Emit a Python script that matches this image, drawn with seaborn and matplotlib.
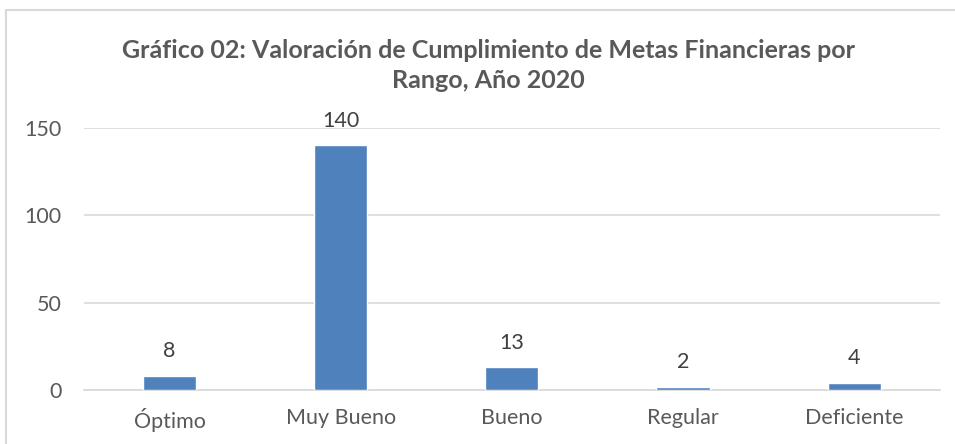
import matplotlib
matplotlib.use("Agg")
import matplotlib.pyplot as plt
import seaborn as sns
import pandas as pd

# datos del gráfico
categorias = ["Óptimo", "Muy Bueno", "Bueno", "Regular", "Deficiente"]
valores = [8, 140, 13, 2, 4]
titulo = "Gráfico 02: Valoración de Cumplimiento de Metas Financieras por\nRango, Año 2020"

df = pd.DataFrame({"rango": categorias, "cantidad": valores})

sns.set_theme(style="white")
plt.rcParams["font.family"] = ["Lato", "DejaVu Sans"]

fig = plt.figure(figsize=(9.55, 4.44), dpi=100)
ax = fig.add_axes([0.088, 0.1216, 0.896, 0.5901])

sns.barplot(data=df, x="rango", y="cantidad", color="#4F81BD", saturation=1,
            width=0.31, ax=ax, zorder=3)

ax.set_ylim(0, 150)
ax.set_xlim(-0.5, 4.5)
ax.set_yticks([0, 50, 100, 150])
ax.yaxis.grid(True, color="#D9D9D9", linewidth=1.2, zorder=0)
ax.set_axisbelow(True)
for s in ["top", "right", "left"]:
    ax.spines[s].set_visible(False)
ax.spines["bottom"].set_color("#D9D9D9")
ax.spines["bottom"].set_linewidth(1.2)
ax.set_xlabel("")
ax.set_ylabel("")
ax.tick_params(axis="both", length=0, labelsize=15.5, labelcolor="#595959")
ax.tick_params(axis="x", pad=13)
ax.tick_params(axis="y", pad=16)

for i, v in enumerate(valores):
    ax.annotate(str(v), (i, v), xytext=(0, 10.5), textcoords="offset points",
                ha="center", va="bottom", fontsize=15.5, color="#404040")

fig.text(0.511, 0.852, titulo, ha="center", va="center", fontsize=18,
         fontweight="bold", color="#595959", linespacing=1.35)

# borde del gráfico
borde = plt.Rectangle((0.006, -0.05), 1.1, 1.027, transform=fig.transFigure,
                      fill=False, edgecolor="#D9D9D9", linewidth=1.5)
fig.patches.append(borde)

fig.savefig("out.png", dpi=100)
